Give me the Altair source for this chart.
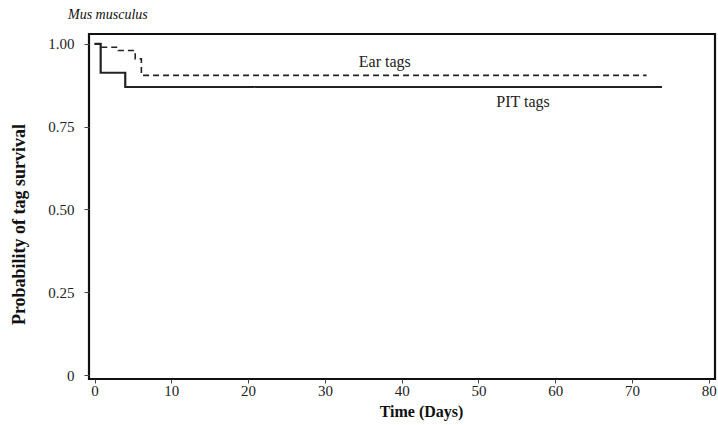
import altair as alt
import pandas as pd

# PIT tags (solid) Kaplan-Meier steps
pit_days = [0, 0.8, 4.0, 73.9]
pit_surv = [1.0, 0.913, 0.870, 0.870]
# Ear tags (dashed)
ear_days = [0, 0.7, 3.1, 5.3, 6.1, 71.9]
ear_surv = [1.0, 0.99, 0.98, 0.955, 0.905, 0.905]

label_text = ["Ear tags", "PIT tags"]
label_x = [37.8, 55.8]
label_y = [0.945, 0.825]

y_ticks = [0, 0.25, 0.5, 0.75, 1.0]
x_ticks = [0, 10, 20, 30, 40, 50, 60, 70, 80]

df = pd.DataFrame(
    {"day": pit_days + ear_days,
     "surv": pit_surv + ear_surv,
     "tag": ["PIT tags"] * len(pit_days) + ["Ear tags"] * len(ear_days)}
)
lab = pd.DataFrame({"t": label_text, "x": label_x, "y": label_y})

FONT = "Liberation Serif"

xs = alt.Scale(domain=[-0.72, 80.8], nice=False, zero=False)
ys = alt.Scale(domain=[-0.012, 1.030], nice=False, zero=False)

x_axis = alt.Axis(values=x_ticks, title="Time (Days)", grid=False, tickSize=4,
                  labelFont=FONT, labelFontSize=15, titleFont=FONT, titleFontSize=16,
                  titleFontWeight="bold", labelColor="#222", titleColor="#111",
                  labelPadding=0, domain=False, tickColor="#444",
                  titleX=332, titleY=40, titleAlign="center", titleBaseline="bottom",
                  labelFlush=False)
y_axis = alt.Axis(values=y_ticks, title="Probability of tag survival", grid=False, tickSize=5,
                  labelFont=FONT, labelFontSize=15, titleFont=FONT, titleFontSize=18,
                  titleFontWeight="bold", labelColor="#222", titleColor="#111",
                  labelPadding=10, domain=False, tickColor="#444",
                  titleX=-70, titleY=190, titleAngle=270, titleAlign="center",
                  titleBaseline="middle",
                  labelExpr="datum.value == 0 ? '0' : format(datum.value, '.2f')",
                  labelFlush=False)

lines = alt.Chart(df).mark_line(interpolate="step-after", color="#222").encode(
    x=alt.X("day:Q", scale=xs, axis=x_axis),
    y=alt.Y("surv:Q", scale=ys, axis=y_axis),
    strokeDash=alt.StrokeDash("tag:N", scale=alt.Scale(domain=["PIT tags", "Ear tags"],
                                                        range=[[1, 0], [6, 4]]), legend=None),
    strokeWidth=alt.StrokeWidth("tag:N", scale=alt.Scale(domain=["PIT tags", "Ear tags"],
                                                          range=[2.2, 1.6]), legend=None),
    detail="tag:N",
)

texts = alt.Chart(lab).mark_text(font=FONT, fontSize=16, color="#222").encode(
    x=alt.X("x:Q", scale=xs), y=alt.Y("y:Q", scale=ys), text="t:N"
)

chart = alt.layer(lines, texts).properties(
    width=626, height=345,
    title=alt.TitleParams("Mus musculus", font=FONT, fontSize=14, fontStyle="italic",
                          fontWeight="normal", anchor="start", frame="group", dx=-21,
                          offset=12, color="#111"),
    autosize="none",
    background="white",
    padding={"left": 89, "top": 34, "right": 3, "bottom": 46},
).configure_view(stroke="#111", strokeWidth=2.2)

chart.save("out.html", embed_options={"renderer": "svg", "actions": False})
